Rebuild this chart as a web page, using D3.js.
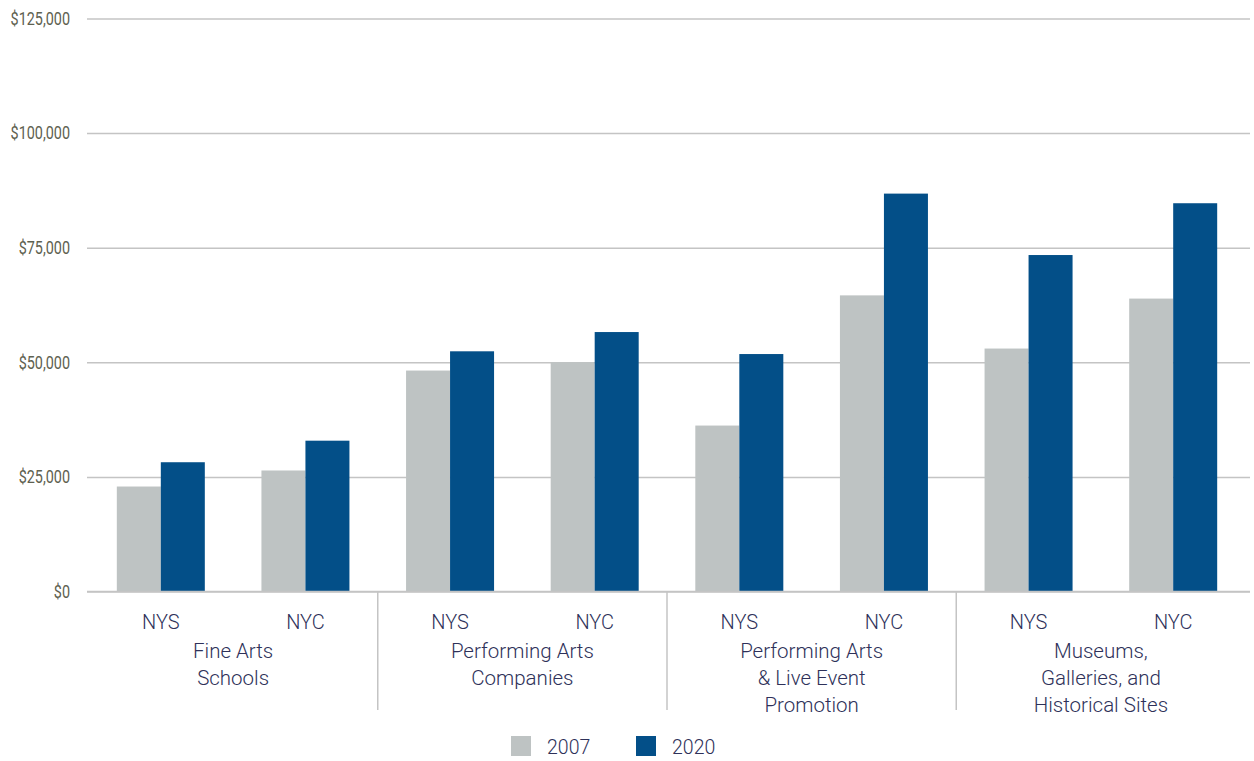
<!DOCTYPE html>
<html>
<head>
<meta charset="utf-8">
<script src="https://cdn.jsdelivr.net/npm/d3@7"></script>
<style>
  body { margin: 0; background: #fff; }
  svg { display: block; }
</style>
</head>
<body>
<svg id="chart" width="1254" height="761"></svg>
<script>
// categories and sub categories (regions)
var categories = [
    ["Fine Arts", "Schools"],
    ["Performing Arts", "Companies"],
    ["Performing Arts", "& Live Event", "Promotion"],
    ["Museums,", "Galleries, and", "Historical Sites"]
];
var regions = ["NYS", "NYC"];
var years = ["2007", "2020"];

// values, one per category x region, in order
var values_2007 = [22900, 26400, 48200, 50000, 36200, 64600, 53000, 63900];
var values_2020 = [28200, 32900, 52400, 56600, 51800, 86800, 73400, 84700];

var y_ticks = [0, 25000, 50000, 75000, 100000, 125000];

var colours = {"2007": "#bec3c3", "2020": "#034f88"};

chart();

function chart() {
    var svg = d3.select("#chart");

    // build one row per bar slot (category + region)
    var rows = [];
    categories.forEach(function(c, ci) {
        regions.forEach(function(r) {
            var i = rows.length;
            rows.push({key: ci + "_" + r, cat: ci, region: r,
                "2007": values_2007[i], "2020": values_2020[i]});
        });
    });

    var x = d3.scaleBand()
        .domain(rows.map(d => d.key))
        .range([88.5, 1245.5]);

    var x_inner = d3.scaleBand()
        .domain(years)
        .range([0, 88]);

    var y = d3.scaleLinear()
        .domain([0, 125000])
        .range([591.5, 18.5]);

    // gridlines + y labels
    var yAxis = svg.append("g")
        .attr("transform", "translate(87,0)")
        .call(d3.axisLeft(y).tickValues(y_ticks).tickSize(-1163).tickPadding(17)
            .tickFormat(d => "$" + d3.format(",")(d)));
    yAxis.select(".domain").remove();
    yAxis.selectAll(".tick line").attr("stroke", "#c4c4c4").attr("stroke-width", 1.5);
    // the tick labels are a condensed face, so squeeze them horizontally
    var squeeze = 0.8;
    yAxis.selectAll(".tick text")
        .attr("fill", "#5e6150")
        .attr("x", -17 / squeeze)
        .attr("transform", `scale(${squeeze},1)`)
        .style("font-family", "Roboto, sans-serif")
        .style("font-size", "18px");

    // bars
    var group = svg.selectAll("g.slot")
        .data(rows)
        .enter().append("g")
        .classed("slot", true)
        .attr("transform", d => `translate(${x(d.key) + (x.bandwidth() - 88) / 2},0)`);

    group.selectAll("rect")
        .data(d => years.map(yr => ({year: yr, value: d[yr]})))
        .enter().append("rect")
        .attr("x", d => x_inner(d.year))
        .attr("width", x_inner.bandwidth())
        .attr("y", d => y(d.value))
        .attr("height", d => y(0) - y(d.value))
        .attr("fill", d => colours[d.year]);

    // redraw the zero line on top of bars
    svg.append("line")
        .attr("x1", 87).attr("x2", 1250)
        .attr("y1", y(0)).attr("y2", y(0))
        .attr("stroke", "#c4c4c4").attr("stroke-width", 1.5);

    var label_font = "Roboto, 'Noto Sans', sans-serif";
    var text_col = "#2e3159";

    // region labels
    svg.selectAll("text.region")
        .data(rows)
        .enter().append("text")
        .classed("region", true)
        .attr("x", d => x(d.key) + x.bandwidth() / 2)
        .attr("y", 629)
        .attr("text-anchor", "middle")
        .style("font-family", label_font)
        .style("font-weight", 300)
        .style("font-size", "20px")
        .attr("fill", text_col)
        .text(d => d.region);

    // category labels, centred under each pair of regions
    var cat_w = x.bandwidth() * regions.length;
    var cat_labels = svg.selectAll("text.cat")
        .data(categories)
        .enter().append("text")
        .classed("cat", true)
        .attr("text-anchor", "middle")
        .style("font-family", label_font)
        .style("font-weight", 300)
        .style("font-size", "20.5px")
        .attr("fill", text_col);
    cat_labels.selectAll("tspan")
        .data((d, i) => d.map(line => ({line: line, ci: i})))
        .enter().append("tspan")
        .attr("x", d => x.range()[0] + cat_w * d.ci + cat_w / 2)
        .attr("y", (d, i) => 658 + i * 27)
        .text(d => d.line);

    // separators between categories
    svg.selectAll("line.sep")
        .data(categories.slice(1))
        .enter().append("line")
        .classed("sep", true)
        .attr("x1", (d, i) => x.range()[0] + cat_w * (i + 1))
        .attr("x2", (d, i) => x.range()[0] + cat_w * (i + 1))
        .attr("y1", y(0)).attr("y2", 710)
        .attr("stroke", "#c4c4c4").attr("stroke-width", 1.5);

    // legend
    var legend = svg.selectAll("g.legend")
        .data(years)
        .enter().append("g")
        .classed("legend", true)
        .attr("transform", (d, i) => `translate(${511 + i * 125},736)`);
    legend.append("rect")
        .attr("width", 20).attr("height", 20)
        .attr("fill", d => colours[d]);
    legend.append("text")
        .attr("x", 36).attr("y", 18)
        .style("font-family", label_font)
        .style("font-weight", 300)
        .style("font-size", "19.5px")
        .attr("fill", text_col)
        .text(d => d);
}
</script>
</body>
</html>
